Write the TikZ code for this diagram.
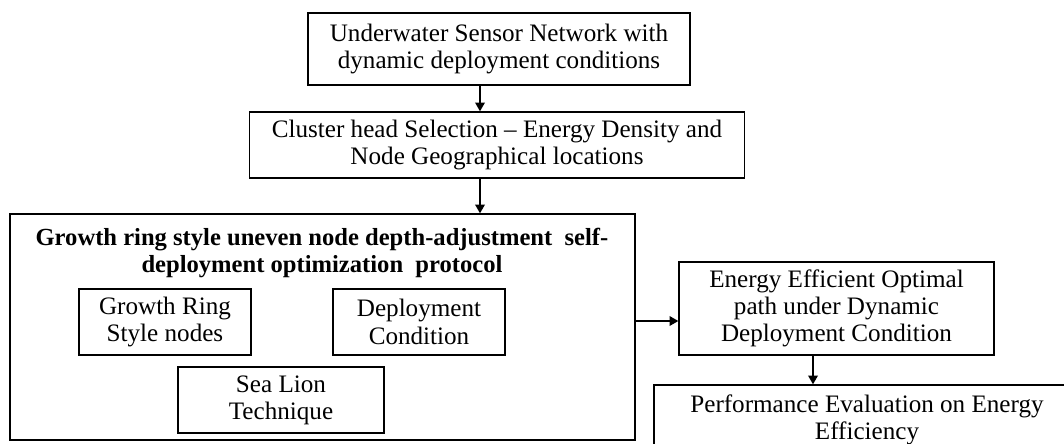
\documentclass[tikz,border=0pt]{standalone}
\usepackage{fontspec}
\setmainfont{Liberation Serif}
\usetikzlibrary{positioning}
\usetikzlibrary{arrows.meta}

\begin{document}
\begin{tikzpicture}[x=0.02cm, y=-0.02cm,
    box/.style={draw, line width=0.8pt, align=center, inner sep=0pt, font=\fontsize{14.3}{15.5}\selectfont},
    arr/.style={line width=0.8pt, -{Triangle[length=5pt,width=5.5pt]}}]
    \useasboundingbox (0,0) rectangle (1064,443);
    \clip (0,0) rectangle (1064,443);

    % Main column
    \node[box, minimum width=7.64cm, minimum height=1.44cm] (usn) at (499,49)
        {Underwater Sensor Network with\\dynamic deployment conditions};
    \node[box, minimum width=9.9cm, minimum height=1.32cm] (chs) at (497,145)
        {Cluster head Selection -- Energy Density and\\Node Geographical locations};

    % Protocol block
    \node[box, minimum width=12.5cm, minimum height=4.52cm] (gro) at (322.5,327) {};
    \node[align=center, font=\fontsize{14}{15.5}\selectfont\bfseries] (title) at (322,253)
        {Growth ring style uneven node depth-adjustment\ \ self-\\deployment optimization\ \ protocol};
    \node[box, minimum width=3.44cm, minimum height=1.32cm] (grn) at (165,322)
        {Growth Ring\\Style nodes};
    \node[box, minimum width=3.44cm, minimum height=1.32cm] (dpc) at (419,322)
        {Deployment\\Condition};
    \node[box, minimum width=4.12cm, minimum height=1.32cm] (slt) at (281,400)
        {Sea Lion\\Technique};

    % Right column
    \node[box, minimum width=6.3cm, minimum height=1.86cm] (eee) at (836.5,308.5)
        {Energy Efficient Optimal\\path under Dynamic\\Deployment Condition};
    \node[box, minimum width=8.52cm, minimum height=1.4cm] (pee) at (867,420)
        {Performance Evaluation on Energy\\Efficiency};

    % Connectors
    \coordinate (axis) at (480,0);
    \coordinate (lvl) at (0,321);
    \coordinate (drop) at (813,0);
    \draw[arr] (usn.south -| axis) -- (chs.north -| axis);
    \draw[arr] (chs.south -| axis) -- (gro.north -| axis);
    \draw[arr] (gro.east |- lvl) -- (eee.west |- lvl);
    \draw[arr] (eee.south -| drop) -- (pee.north -| drop);
\end{tikzpicture}
\end{document}
